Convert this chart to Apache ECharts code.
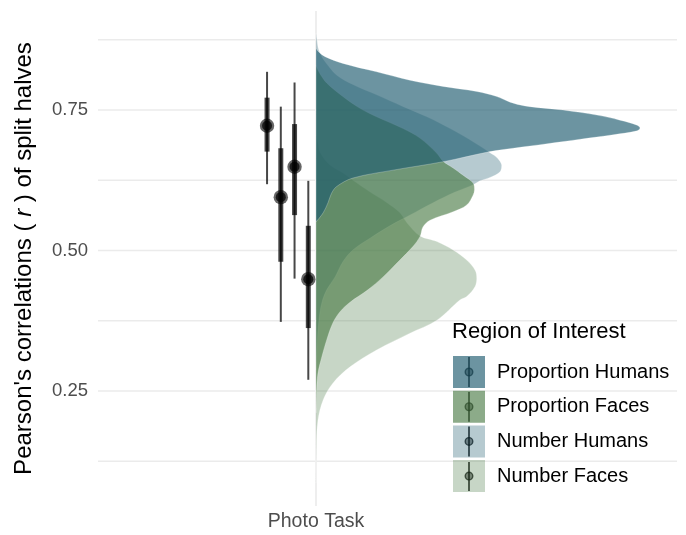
<!DOCTYPE html>
<html>
<head>
<meta charset="utf-8">
<script src="https://cdn.jsdelivr.net/npm/echarts@6/dist/echarts.min.js"></script>
<style>
  html, body { margin: 0; padding: 0; background: #fff; }
  #chart { width: 686px; height: 535px; }
</style>
</head>
<body>
<div id="chart"></div>
<script>
// ---- data ----
const categories = ['Photo Task'];
const groups = ['Proportion Humans', 'Proportion Faces', 'Number Humans', 'Number Faces'];

// point + interval summaries (median, 66% and 95% intervals)
const medians  = [0.722, 0.595, 0.649, 0.449];
const ci66Low  = [0.676, 0.480, 0.563, 0.362];
const ci66High = [0.772, 0.682, 0.725, 0.544];
const ci95Low  = [0.618, 0.373, 0.450, 0.270];
const ci95High = [0.818, 0.756, 0.799, 0.624];

// density profiles: [r, relative density] from the top of each slab to its bottom
const densityPropHumans = [
  [0.860, 0.000], [0.853, 0.009], [0.845, 0.028], [0.833, 0.083], [0.818, 0.187],
  [0.803, 0.290], [0.792, 0.392], [0.783, 0.496], [0.774, 0.558], [0.764, 0.599],
  [0.759, 0.630], [0.756, 0.660], [0.750, 0.762], [0.741, 0.867], [0.732, 0.938],
  [0.723, 0.991], [0.718, 1.000], [0.713, 0.991], [0.706, 0.917], [0.698, 0.815],
  [0.690, 0.713], [0.682, 0.608], [0.676, 0.537], [0.658, 0.392], [0.643, 0.238],
  [0.629, 0.114], [0.614, 0.064], [0.602, 0.048], [0.585, 0.037], [0.567, 0.022],
  [0.551, 0.000]
];
const densityPropFaces = [
  [0.830, 0.000], [0.821, 0.006], [0.812, 0.015], [0.798, 0.033], [0.774, 0.083],
  [0.753, 0.136], [0.738, 0.187], [0.717, 0.269], [0.700, 0.321], [0.673, 0.373],
  [0.659, 0.392], [0.647, 0.423], [0.634, 0.454], [0.620, 0.485], [0.608, 0.489],
  [0.599, 0.485], [0.581, 0.465], [0.569, 0.423], [0.554, 0.352], [0.542, 0.330],
  [0.525, 0.321], [0.507, 0.299], [0.483, 0.259], [0.453, 0.207], [0.430, 0.160],
  [0.408, 0.105], [0.391, 0.074], [0.371, 0.052], [0.341, 0.033], [0.311, 0.018],
  [0.282, 0.006], [0.252, 0.002], [0.211, 0.000]
];
const densityNumHumans = [
  [0.887, 0.000], [0.875, 0.003], [0.860, 0.007], [0.848, 0.015], [0.836, 0.028],
  [0.812, 0.064], [0.795, 0.115], [0.777, 0.187], [0.756, 0.269], [0.738, 0.342],
  [0.717, 0.414], [0.697, 0.475], [0.674, 0.537], [0.665, 0.559], [0.652, 0.573],
  [0.640, 0.568], [0.630, 0.537], [0.624, 0.506], [0.617, 0.485], [0.604, 0.429],
  [0.585, 0.361], [0.563, 0.290], [0.544, 0.228], [0.522, 0.167], [0.501, 0.114],
  [0.480, 0.083], [0.453, 0.059], [0.430, 0.033], [0.407, 0.018], [0.376, 0.009],
  [0.328, 0.003], [0.287, 0.000]
];
const densityNumFaces = [
  [0.706, 0.000], [0.691, 0.006], [0.675, 0.012], [0.652, 0.043], [0.638, 0.083],
  [0.625, 0.114], [0.604, 0.167], [0.585, 0.219], [0.567, 0.259], [0.549, 0.281],
  [0.526, 0.321], [0.516, 0.373], [0.501, 0.423], [0.483, 0.465], [0.465, 0.491],
  [0.451, 0.496], [0.436, 0.491], [0.418, 0.465], [0.412, 0.444], [0.376, 0.373],
  [0.353, 0.290], [0.323, 0.187], [0.293, 0.105], [0.264, 0.052], [0.234, 0.022],
  [0.198, 0.006], [0.151, 0.001], [0.086, 0.000]
];

const majorBreaks = [0.25, 0.5, 0.75];
const minorBreaks = [0.125, 0.375, 0.625, 0.875];

// ---- styling ----
const FONT = '"Liberation Sans", Arial, Helvetica, sans-serif';
const GRID_COLOR = '#ebebeb';
const fills = [
  'rgba(29,90,110,0.65)',   // Proportion Humans
  'rgba(70,120,65,0.62)',   // Proportion Faces
  'rgba(29,90,110,0.32)',   // Number Humans
  'rgba(70,120,65,0.30)'    // Number Faces
];
const densities = [densityPropHumans, densityPropFaces, densityNumHumans, densityNumFaces];
const slabScale = 0.9;          // slab height as a fraction of the category band
const dodgeCenter = -0.0787;    // point intervals sit to the left of the slab
const dodgeStep = 0.0382;

const LEGEND_LEFT = 453, LEGEND_TOP = 356, KEY = 32, KEY_GAP = 2.7;

// ---- series ----

// panel grid: horizontal lines at major/minor breaks, one vertical line at the category
const gridLines = minorBreaks.map(function (v) { return ['h', v, 1.3]; })
  .concat(majorBreaks.map(function (v) { return ['h', v, 1.7]; }))
  .concat([['v', 0, 1.7]]);

const gridSeries = {
  type: 'custom',
  name: 'panel-grid',
  coordinateSystem: 'cartesian2d',
  silent: true,
  z: 0,
  data: gridLines.map(function (g, i) { return [i]; }),
  renderItem: function (params, api) {
    const g = gridLines[params.dataIndex];
    const cs = params.coordSys;
    let shape;
    if (g[0] === 'h') {
      const y = api.coord([0, g[1]])[1];
      shape = { x1: cs.x, y1: y, x2: cs.x + cs.width, y2: y };
    } else {
      const x = api.coord([g[1], 0.5])[0];
      shape = { x1: x, y1: cs.y, x2: x, y2: cs.y + cs.height };
    }
    return { type: 'line', shape: shape, style: { stroke: GRID_COLOR, lineWidth: g[2] } };
  }
};

function bbox(pts) {
  const lo = [Infinity, Infinity], hi = [-Infinity, -Infinity];
  pts.forEach(function (p) {
    lo[0] = Math.min(lo[0], p[0]); lo[1] = Math.min(lo[1], p[1]);
    hi[0] = Math.max(hi[0], p[0]); hi[1] = Math.max(hi[1], p[1]);
  });
  return [lo, hi];
}

function slabSeries(i) {
  const curve = densities[i];
  return {
    type: 'custom',
    name: groups[i],
    coordinateSystem: 'cartesian2d',
    clip: true,
    z: 2,
    silent: true,
    itemStyle: { color: fills[i] },
    encode: { x: 0, y: 1 },
    data: [[0, curve[0][0]]],
    renderItem: function (params, api) {
      const pts = curve.map(function (d) { return api.coord([d[1] * slabScale, d[0]]); });
      return {
        type: 'polygon',
        shape: { points: pts, smooth: 0.35, smoothConstraint: bbox(pts) },
        style: { fill: fills[i], stroke: 'rgba(255,255,255,0.35)', lineWidth: 0.7 }
      };
    }
  };
}

const intervalData = groups.map(function (g, i) {
  return [dodgeCenter + (i - 1.5) * dodgeStep, medians[i], ci66Low[i], ci66High[i], ci95Low[i], ci95High[i]];
});

const intervalSeries = {
  type: 'custom',
  name: 'intervals',
  coordinateSystem: 'cartesian2d',
  z: 3,
  silent: true,
  encode: { x: 0, y: 1 },
  data: intervalData,
  renderItem: function (params, api) {
    const x = api.value(0);
    const pMed = api.coord([x, api.value(1)]);
    const p66a = api.coord([x, api.value(2)]);
    const p66b = api.coord([x, api.value(3)]);
    const p95a = api.coord([x, api.value(4)]);
    const p95b = api.coord([x, api.value(5)]);
    const ink = 'rgba(0,0,0,0.72)';
    return {
      type: 'group',
      children: [
        { type: 'line', shape: { x1: p95a[0], y1: p95a[1], x2: p95b[0], y2: p95b[1] },
          style: { stroke: ink, lineWidth: 2 } },
        { type: 'line', shape: { x1: p66a[0], y1: p66a[1], x2: p66b[0], y2: p66b[1] },
          style: { stroke: ink, lineWidth: 5 } },
        { type: 'circle', shape: { cx: pMed[0], cy: pMed[1], r: 7.2 }, style: { fill: 'rgba(0,0,0,0.6)' } },
        { type: 'circle', shape: { cx: pMed[0], cy: pMed[1], r: 5 }, style: { fill: ink } }
      ]
    };
  }
};

// key glyphs (point + interval) drawn over the legend swatches
const keyGlyphs = groups.map(function (g, i) {
  const cx = LEGEND_LEFT + KEY / 2;
  const top = LEGEND_TOP + i * (KEY + KEY_GAP);
  return {
    type: 'group',
    silent: true,
    z: 100,
    children: [
      { type: 'line', shape: { x1: cx, y1: top + 1, x2: cx, y2: top + KEY - 1 },
        style: { stroke: 'rgba(0,0,0,0.7)', lineWidth: 2 } },
      { type: 'circle', shape: { cx: cx, cy: top + KEY / 2, r: 3.8 },
        style: { fill: 'rgba(0,0,0,0.45)', stroke: 'rgba(0,0,0,0.7)', lineWidth: 1.4 } }
    ]
  };
});

const option = {
  animation: false,
  backgroundColor: '#ffffff',
  textStyle: { fontFamily: FONT },
  title: {
    text: 'Region of Interest',
    left: 452,
    top: 321,
    padding: 0,
    textStyle: { fontFamily: FONT, fontSize: 22, fontWeight: 'normal', color: '#000000' }
  },
  legend: {
    orient: 'vertical',
    left: LEGEND_LEFT,
    top: LEGEND_TOP,
    padding: 0,
    itemWidth: KEY,
    itemHeight: KEY,
    itemGap: KEY_GAP,
    selectedMode: false,
    textStyle: { fontFamily: FONT, fontSize: 20, color: '#000000', padding: [0, 0, 0, 7] },
    data: groups.map(function (g, i) {
      return { name: g, icon: 'rect', itemStyle: { color: fills[i], borderWidth: 0 } };
    })
  },
  grid: { left: 98, right: 9, top: 11, bottom: 29, containLabel: false },
  xAxis: {
    type: 'value',
    min: -0.6056,
    max: 1.0028,
    axisLine: { show: false },
    axisTick: { show: false },
    splitLine: { show: false },
    axisLabel: {
      customValues: [0],
      formatter: function () { return categories[0]; },
      color: '#4d4d4d',
      fontFamily: FONT,
      fontSize: 19.5,
      margin: 6
    }
  },
  yAxis: {
    type: 'value',
    min: 0.0454,
    max: 0.9262,
    name: "Pearson's correlations ( {i|r} ) of split halves",
    nameLocation: 'middle',
    nameGap: 62,
    nameTextStyle: {
      fontFamily: FONT, fontSize: 24, color: '#000000',
      rich: { i: { fontFamily: FONT, fontSize: 24, fontStyle: 'italic', color: '#000000' } }
    },
    axisLine: { show: false },
    axisTick: { show: false },
    splitLine: { show: false },
    axisLabel: {
      customValues: majorBreaks,
      formatter: function (v) { return Number(v).toFixed(2); },
      color: '#4d4d4d',
      fontFamily: FONT,
      fontSize: 18.5,
      margin: 10
    }
  },
  graphic: keyGlyphs,
  series: [gridSeries, slabSeries(3), slabSeries(2), slabSeries(1), slabSeries(0), intervalSeries]
};

const chart = echarts.init(document.getElementById('chart'), null, { renderer: 'canvas' });
chart.setOption(option);
</script>
</body>
</html>
